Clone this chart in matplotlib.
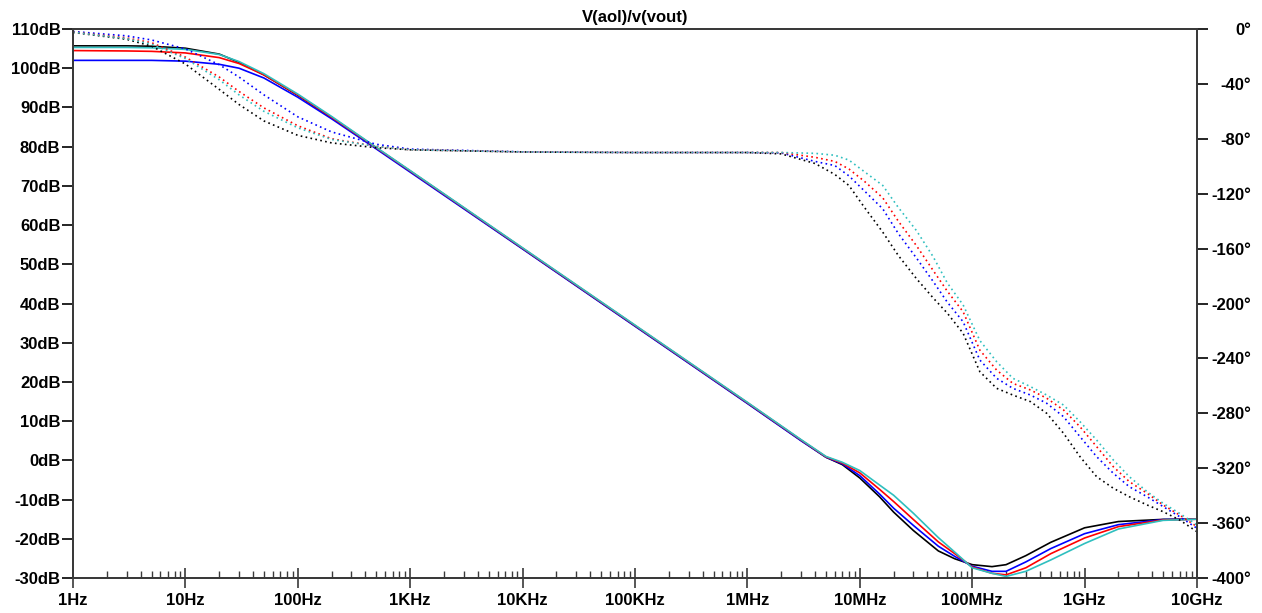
import numpy as np
import matplotlib
matplotlib.use("Agg")
import matplotlib.pyplot as plt
from matplotlib.ticker import LogLocator, NullFormatter

# frequency grid (Hz) for the magnitude traces
f_mag = [1, 3, 5, 10, 20, 30, 50, 100, 200, 500, 1e3, 1e4, 1e5, 1e6, 3e6, 5e6,
         7e6, 1e7, 1.5e7, 2e7, 3e7, 5e7, 7e7, 1e8, 1.5e8, 2e8, 3e8, 5e8, 1e9,
         2e9, 5e9, 1e10]

# open loop gain, dB
mag_black = [105.7, 105.7, 105.6, 105.1, 103.6, 101.5, 98.3, 93.1, 87.4, 79.6,
             73.7, 54.0, 34.3, 14.6, 5.1, 0.8, -1.1, -4.5, -9.3, -13.2, -17.9,
             -23.1, -25.1, -26.6, -27.1, -26.6, -24.3, -20.9, -17.2, -15.6,
             -15.05, -15.0]
mag_blue = [102.0, 102.0, 102.0, 101.8, 101.0, 100.0, 97.5, 92.6, 87.1, 79.4,
            73.5, 53.9, 34.2, 14.5, 5.0, 0.8, -0.9, -3.9, -8.6, -12.2, -16.6,
            -21.9, -24.5, -27.0, -28.3, -28.3, -25.9, -22.5, -18.7, -16.4,
            -15.1, -15.0]
mag_red = [104.5, 104.4, 104.3, 103.9, 102.7, 101.2, 98.3, 93.2, 87.5, 79.7,
           73.8, 54.1, 34.4, 14.7, 5.2, 0.9, -0.7, -3.2, -7.4, -10.5, -15.1,
           -20.8, -23.8, -27.2, -28.8, -29.2, -27.4, -23.8, -19.8, -16.9,
           -15.2, -15.0]
mag_cyan = [105.3, 105.3, 105.2, 104.8, 103.5, 101.7, 98.6, 93.4, 87.7, 79.8,
            73.9, 54.2, 34.5, 14.8, 5.3, 1.0, -0.5, -2.6, -6.3, -8.9, -13.5,
            -19.7, -23.4, -27.4, -28.8, -29.6, -28.3, -25.4, -21.2, -17.5,
            -15.3, -15.0]

# frequency grid (Hz) for the phase traces
f_ph = [1, 3, 5, 10, 20, 30, 50, 100, 200, 500, 1e3, 1e4, 1e5, 1e6, 2e6, 4e6,
        6e6, 8e6, 1.1e7, 1.6e7, 2.2e7, 3.2e7, 4.5e7, 6e7, 8.3e7, 1.17e8,
        1.65e8, 2.3e8, 3.3e8, 4.6e8, 6.5e8, 9.1e8, 1.28e9, 1.8e9, 2.5e9,
        3.6e9, 5e9, 7e9, 1e10]

# phase, degrees
ph_black = [-2.5, -7.5, -12.5, -25.5, -44, -55, -67, -77.5, -83, -86.5,
            -88, -89.6, -90, -90, -91, -98, -106, -114, -130, -148,
            -165, -182, -196, -207, -221.7, -249.7, -261.8, -266.7, -271.5, -280,
            -294.6, -311.6, -326.2, -334.6, -340.8, -346.8, -351.7, -357.7, -366.3]
ph_blue = [-1.8, -5, -8, -14.5, -26, -35, -48, -64, -75, -84,
           -87.5, -89.5, -90, -90, -90.3, -96.5, -99.5, -107, -118, -131,
           -149, -167, -184, -199, -213.3, -241.2, -254.5, -261.8, -266.7, -272.7,
           -282.5, -297, -311.6, -323.7, -333.5, -340.8, -348, -355.3, -363.8]
ph_red = [-2.2, -6.5, -10, -20.5, -35, -45.5, -57.5, -70.5, -80, -85.5,
          -88, -89.6, -90, -90, -90, -93.5, -96.5, -102, -111, -123,
          -140, -158, -176, -191, -206, -234, -248.5, -258.2, -263, -269,
          -277.6, -289.8, -304.3, -318.9, -329.8, -338.3, -346.8, -354.1, -362.6]
ph_cyan = [-2.3, -7, -11, -21.5, -37, -48, -60, -72, -80.5, -85.5,
           -88, -89.6, -90, -90, -90, -90.6, -92, -95.5, -104, -114,
           -130, -147, -166, -185, -201, -227, -242.4, -254.5, -260.6, -266.7,
           -274, -286.1, -299.5, -314, -326.2, -337.1, -345.6, -352.9, -361.4]

freq_ticks = [1, 10, 100, 1e3, 1e4, 1e5, 1e6, 1e7, 1e8, 1e9, 1e10]
freq_labels = ["1Hz", "10Hz", "100Hz", "1KHz", "10KHz", "100KHz", "1MHz",
               "10MHz", "100MHz", "1GHz", "10GHz"]
db_ticks = list(range(-30, 111, 10))
deg_ticks = list(range(-400, 1, 40))

plt.rcParams['font.family'] = ['Liberation Sans', 'DejaVu Sans']
plt.rcParams['font.weight'] = 'bold'

W, H = 1262, 613
fig = plt.figure(figsize=(W/100, H/100), dpi=100)
ax = fig.add_axes([73/W, 1 - 578/H, 1124/W, 549/H])
ax2 = ax.twinx()

traces = [("#000000", mag_black, ph_black),
          ("#0000ff", mag_blue, ph_blue),
          ("#ff0000", mag_red, ph_red),
          ("#2fbfbf", mag_cyan, ph_cyan)]

for color, mag, ph in traces:
    ax.plot(f_mag, mag, color=color, lw=1.2)
    ax2.plot(f_ph, ph, color=color, lw=1.2, ls=(0, (1, 2)))

ax.set_xscale("log")
ax.set_xlim(1, 1e10)
ax.set_ylim(-30, 110)
ax2.set_ylim(-400, 0)

frame = "#3a3a3a"
for a in (ax, ax2):
    for sp in a.spines.values():
        sp.set_color(frame)
        sp.set_linewidth(1.4)

ax.set_xticks(freq_ticks)
ax.set_xticklabels(freq_labels)
ax.xaxis.set_minor_locator(LogLocator(base=10, subs=range(2, 10), numticks=100))
ax.xaxis.set_minor_formatter(NullFormatter())
ax.tick_params(axis="x", which="major", direction="inout", length=14, width=1.2,
               color=frame, pad=3.5, labelsize=12)
ax.tick_params(axis="x", which="minor", direction="in", length=5, width=1.0,
               color=frame)

ax.set_yticks(db_ticks)
ax.set_yticklabels([f"{v}dB" for v in db_ticks])
ax.tick_params(axis="y", direction="out", length=8, width=1.2, color="#000000",
               pad=1, labelsize=12)

ax2.set_yticks(deg_ticks)
ax2.set_yticklabels([f"{v}°" for v in deg_ticks])
ax2.tick_params(axis="y", direction="out", length=8, width=1.2, color="#000000",
                pad=31, labelsize=12)
for lbl in ax2.get_yticklabels():
    lbl.set_horizontalalignment("right")

ax.set_title("V(aol)/v(vout)", fontsize=12, fontweight="bold", pad=5)

fig.savefig("out.png", dpi=100)
